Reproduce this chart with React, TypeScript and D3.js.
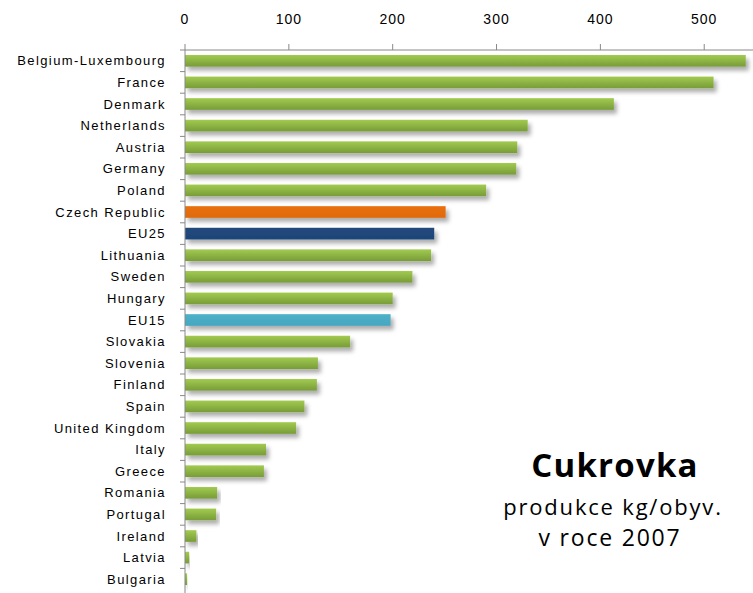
import * as d3 from "d3";

const countries = [
  "Belgium-Luxembourg", "France", "Denmark", "Netherlands", "Austria", "Germany",
  "Poland", "Czech Republic", "EU25", "Lithuania", "Sweden", "Hungary", "EU15",
  "Slovakia", "Slovenia", "Finland", "Spain", "United Kingdom", "Italy", "Greece",
  "Romania", "Portugal", "Ireland", "Latvia", "Bulgaria",
];
const production = [
  540, 509, 413, 330, 320, 319, 290, 251, 240, 237, 219, 200, 198,
  159, 128, 127, 115, 107, 78, 76, 31, 30, 11, 4, 2,
];
const xTicks = [0, 100, 200, 300, 400, 500];
const titleLines = ["Cukrovka", "produkce kg/obyv.", "v roce 2007"];

const W = 753;
const H = 593;
const LEFT = 185;
const TOP = 50;

const barFill = (name: string) => {
  if (name === "Czech Republic") return "url(#gOrange)";
  if (name === "EU25") return "url(#gNavy)";
  if (name === "EU15") return "url(#gTeal)";
  return "url(#gGreen)";
};

export default function App() {
  const x = d3.scaleLinear().domain([0, 546]).range([LEFT, W - 1]);
  const y = d3
    .scaleBand<string>()
    .domain(countries)
    .range([TOP, 590])
    .paddingInner(0.46)
    .paddingOuter(0.23);
  const step = y.step();

  return (
    <svg
      width={W}
      height={H}
      style={{ position: "absolute", left: 0, top: 0, background: "#fff" }}
      fontFamily="'Liberation Sans', Arial, sans-serif"
    >
      <defs>
        <filter id="shadow" x="-5%" y="-50%" width="115%" height="250%">
          <feDropShadow dx="3" dy="4" stdDeviation="2.2" floodColor="#000" floodOpacity="0.32" />
        </filter>
        <linearGradient id="gGreen" x1="0" y1="0" x2="0" y2="1">
          <stop offset="0" stopColor="#a2cb50" />
          <stop offset="1" stopColor="#779c38" />
        </linearGradient>
        <linearGradient id="gOrange" x1="0" y1="0" x2="0" y2="1">
          <stop offset="0" stopColor="#e8700d" />
          <stop offset="1" stopColor="#e06a0a" />
        </linearGradient>
        <linearGradient id="gNavy" x1="0" y1="0" x2="0" y2="1">
          <stop offset="0" stopColor="#22497c" />
          <stop offset="1" stopColor="#1e4478" />
        </linearGradient>
        <linearGradient id="gTeal" x1="0" y1="0" x2="0" y2="1">
          <stop offset="0" stopColor="#4fb0c9" />
          <stop offset="1" stopColor="#46a6c0" />
        </linearGradient>
      </defs>

      {/* top axis */}
      <line x1={LEFT} x2={W} y1={TOP} y2={TOP} stroke="#888" />
      {xTicks.map((t) => (
        <g key={t}>
          <line x1={x(t)} x2={x(t)} y1={TOP - 6} y2={TOP} stroke="#888" />
          <text x={x(t)} y={24} textAnchor="middle" fontSize={14} letterSpacing={1} fill="#000">
            {t}
          </text>
        </g>
      ))}

      {/* bars */}
      {countries.map((c, i) => (
        <rect
          key={c}
          x={x(0)}
          y={y(c)}
          width={x(production[i]) - x(0)}
          height={y.bandwidth()}
          fill={barFill(c)}
          filter="url(#shadow)"
        />
      ))}

      {/* left axis */}
      <line x1={LEFT} x2={LEFT} y1={TOP} y2={H} stroke="#888" />
      {countries.map((c, i) => (
        <line
          key={"t" + c}
          x1={LEFT - 5}
          x2={LEFT}
          y1={TOP + i * step}
          y2={TOP + i * step}
          stroke="#888"
        />
      ))}
      {countries.map((c) => (
        <text
          key={"l" + c}
          x={166}
          y={(y(c) ?? 0) + y.bandwidth() / 2 + 4.5}
          textAnchor="end"
          fontSize={13}
          letterSpacing={1.4}
          fill="#000"
        >
          {c}
        </text>
      ))}

      {/* title */}
      <g fontFamily="'Open Sans', 'Noto Sans', sans-serif" textAnchor="middle" fill="#000">
        <text x={615} y={477} fontSize={33} fontWeight="bold" letterSpacing={1.2}>
          {titleLines[0]}
        </text>
        <text x={613} y={515} fontSize={22} letterSpacing={1.8}>
          {titleLines[1]}
        </text>
        <text x={610} y={546} fontSize={23} letterSpacing={1.8}>
          {titleLines[2]}
        </text>
      </g>
    </svg>
  );
}
